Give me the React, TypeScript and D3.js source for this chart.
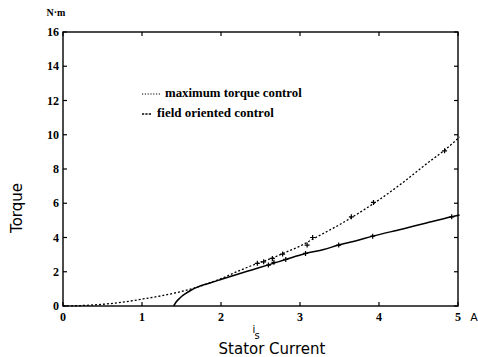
import React from "react";
import * as d3 from "d3";

// Stator current (A) vs. torque (N·m)
const xTicks = [0, 1, 2, 3, 4, 5];
const yTicks = [0, 2, 4, 6, 8, 10, 12, 14, 16];

// maximum torque control curve
const mtcCurrent = [0, 0.25, 0.5, 0.75, 1.0, 1.25, 1.5, 1.7, 2.0, 2.25, 2.46, 2.65, 2.8, 3.0, 3.2, 3.5, 3.7, 4.0, 4.3, 4.6, 4.83, 5.02];
const mtcTorque = [0, 0.03, 0.1, 0.22, 0.4, 0.6, 0.85, 1.1, 1.6, 2.1, 2.49, 2.8, 3.1, 3.5, 4.0, 4.75, 5.3, 6.2, 7.2, 8.3, 9.1, 9.87];
// measured points, maximum torque control
const mtcPtCurrent = [2.46, 2.54, 2.65, 2.78, 3.09, 3.16, 3.65, 3.93, 4.83];
const mtcPtTorque = [2.49, 2.58, 2.78, 3.03, 3.56, 4.0, 5.21, 6.05, 9.06];

// field oriented control curve
const focCurrent = [1.4, 1.43, 1.48, 1.55, 1.62, 1.7, 1.85, 2.0, 2.2, 2.4, 2.6, 2.82, 3.07, 3.3, 3.49, 3.7, 3.92, 4.3, 4.6, 4.92, 5.02];
const focTorque = [0, 0.22, 0.47, 0.72, 0.92, 1.1, 1.33, 1.55, 1.84, 2.12, 2.4, 2.72, 3.07, 3.3, 3.56, 3.8, 4.08, 4.5, 4.85, 5.21, 5.31];
// measured points, field oriented control
const focPtCurrent = [2.6, 2.67, 2.82, 3.07, 3.49, 3.92, 4.92];
const focPtTorque = [2.39, 2.55, 2.72, 3.07, 3.56, 4.08, 5.21];

const legendLabels = ["maximum torque control", "field oriented control"];

const W = 478;
const H = 357;

export default function App() {
  const x = d3.scaleLinear().domain([0, 5]).range([63, 458]);
  const y = d3.scaleLinear().domain([0, 16]).range([306, 32]);
  const [x0, x1] = x.range();
  const [y0, y1] = y.range();

  const line = d3
    .line<[number, number]>()
    .x((d) => x(d[0]))
    .y((d) => y(d[1]))
    .curve(d3.curveMonotoneX);

  const mtc = mtcCurrent.map((c, i) => [c, mtcTorque[i]] as [number, number]);
  const foc = focCurrent.map((c, i) => [c, focTorque[i]] as [number, number]);
  const mtcPts = mtcPtCurrent.map((c, i) => [c, mtcPtTorque[i]]);
  const focPts = focPtCurrent.map((c, i) => [c, focPtTorque[i]]);

  const plus = (px: number, py: number, k: string) => (
    <path
      key={k}
      d={`M${px - 2.5},${py}H${px + 2.5}M${px},${py - 2.5}V${py + 2.5}`}
      stroke="#000"
      strokeWidth={1.2}
    />
  );

  const tickFont = { fontFamily: "Liberation Serif", fontWeight: 700, fontSize: 12, fill: "#000" } as const;
  const tl = 4;

  return (
    <svg
      width={W}
      height={H}
      style={{ position: "absolute", left: 0, top: 0, background: "#fff" }}
    >
      {/* frame */}
      <rect x={x0} y={y1} width={x1 - x0} height={y0 - y1} fill="none" stroke="#000" strokeWidth={1.4} />

      {/* y ticks, both sides, pointing inward */}
      {yTicks.map((t) => (
        <g key={"y" + t}>
          <line x1={x0} x2={x0 + tl} y1={y(t)} y2={y(t)} stroke="#000" strokeWidth={1.2} />
          <line x1={x1} x2={x1 - tl} y1={y(t)} y2={y(t)} stroke="#000" strokeWidth={1.2} />
          <text x={x0 - 4} y={y(t) + 4} textAnchor="end" {...tickFont}>
            {t}
          </text>
        </g>
      ))}

      {/* x ticks, bottom and top, pointing inward */}
      {xTicks.map((t) => (
        <g key={"x" + t}>
          <line x1={x(t)} x2={x(t)} y1={y0} y2={y0 - tl} stroke="#000" strokeWidth={1.2} />
          <line x1={x(t)} x2={x(t)} y1={y1} y2={y1 + tl} stroke="#000" strokeWidth={1.2} />
          <text x={x(t)} y={y0 + 15} textAnchor="middle" {...tickFont}>
            {t}
          </text>
        </g>
      ))}

      {/* units */}
      <text x={474} y={321} textAnchor="middle" fontFamily="DejaVu Sans" fontSize={11} fill="#000">
        A
      </text>
      <text x={56} y={16} textAnchor="middle" fontFamily="Liberation Serif" fontWeight={700} fontSize={10} fill="#000">
        N·m
      </text>

      {/* axis titles */}
      <text
        transform={`translate(22,208) rotate(-90)`}
        textAnchor="middle"
        fontFamily="DejaVu Sans"
        fontSize={15}
        fill="#000"
      >
        Torque
      </text>
      <text x={254} y={333} textAnchor="middle" fontFamily="DejaVu Sans" fontSize={10} fill="#000">
        i
      </text>
      <text x={257} y={339} textAnchor="middle" fontFamily="DejaVu Sans" fontSize={10} fill="#000">
        s
      </text>
      <text x={272} y={354} textAnchor="middle" fontFamily="DejaVu Sans" fontSize={15} fill="#000">
        Stator Current
      </text>

      {/* legend */}
      <line x1={142} x2={161} y1={94} y2={94} stroke="#000" strokeWidth={1} strokeDasharray="1.2,1.6" />
      <text x={165} y={97} fontFamily="Liberation Serif" fontSize={12.8} fontWeight={700} fill="#000">
        {legendLabels[0]}
      </text>
      <line x1={142} x2={151} y1={114} y2={114} stroke="#000" strokeWidth={1.5} strokeDasharray="2.2,1.2" />
      <text x={157} y={117} fontFamily="Liberation Serif" fontSize={13} fontWeight={700} fill="#000">
        {legendLabels[1]}
      </text>

      {/* curves */}
      <path d={line(mtc) ?? ""} fill="none" stroke="#000" strokeWidth={1.3} strokeDasharray="2,2" />
      <path d={line(foc) ?? ""} fill="none" stroke="#000" strokeWidth={1.5} />

      {/* measured points */}
      {mtcPts.map((p, i) => plus(x(p[0]), y(p[1]), "m" + i))}
      {focPts.map((p, i) => plus(x(p[0]), y(p[1]), "f" + i))}
    </svg>
  );
}
